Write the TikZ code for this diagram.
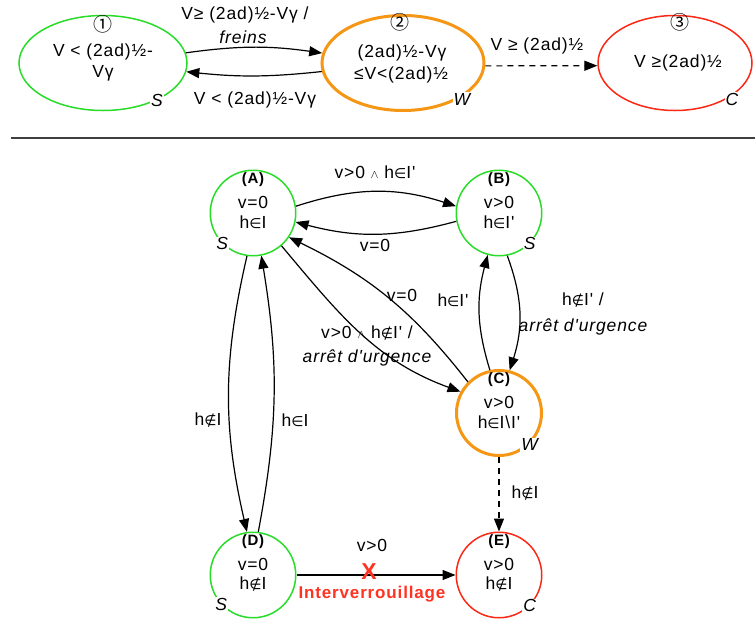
\documentclass[tikz,border=0pt]{standalone}
\usepackage{fontspec}
\setmainfont{Liberation Sans}[LetterSpace=5,Ligatures=TeXOff]
\newfontfamily\symf{DejaVu Sans}
\newfontfamily\cjkf{Noto Sans CJK SC}
\usetikzlibrary{arrows.meta,shapes.geometric}
\definecolor{sgreen}{RGB}{40,220,40}
\definecolor{worange}{RGB}{245,150,20}
\definecolor{cred}{RGB}{250,40,20}
\definecolor{ired}{RGB}{255,51,34}
\newcommand{\elt}{{\symf\fontsize{14}{14}\selectfont ∈}}
\newcommand{\nelt}{{\symf\fontsize{14}{14}\selectfont ∉}}
\newcommand{\wdg}{\ensuremath{\scriptstyle\wedge}}
\newcommand{\circd}[1]{{\cjkf\fontsize{19}{19}\selectfont #1}}
\tikzset{
  txt/.style={font=\fontsize{17.5}{20}\selectfont, inner sep=1pt, align=center},
  itx/.style={font=\itshape\fontsize{17.5}{20}\selectfont, inner sep=1pt},
  ttl/.style={font=\bfseries\fontsize{15}{17}\selectfont, inner sep=0pt},
  tag/.style={font=\itshape\fontsize{17.5}{20}\selectfont, fill=white, inner sep=1pt},
  ell/.style={ellipse, inner sep=0pt, line width=1.5pt},
  st/.style={circle, minimum size=85.5pt, inner sep=0pt, line width=1.5pt},
  safe/.style={st, draw=sgreen},
  warn/.style={st, draw=worange, line width=3pt, minimum size=85pt},
  crit/.style={st, draw=cred},
  arr/.style={-{Triangle[length=13pt,width=10pt]}, line width=1.2pt, black},
  dsh/.style={arr, dash pattern=on 6pt off 5pt},
}
\begin{document}
\begin{tikzpicture}[x=1pt,y=1pt]
\fill[white] (0,0) rectangle (755,-619);
\useasboundingbox (0,0) rectangle (755,-619);

% ---------- top row ----------
\node[ell, draw=sgreen, minimum width=168pt, minimum height=95pt] (E1) at (103,-63) {};
\node[ell, draw=worange, line width=3pt, minimum width=162pt, minimum height=95pt] (E2) at (403,-63) {};
\node[ell, draw=cred, minimum width=154pt, minimum height=95pt] (E3) at (675,-63) {};

\node[inner sep=0pt] (E1n) at (103,-24) {\circd{①}};
\node[txt] (E1a) at (103,-52) {V < (2ad)½-};
\node[txt] (E1b) at (103,-73) {Vγ};
\node[inner sep=0pt] (E2n) at (400,-22) {\circd{②}};
\node[txt] (E2a) at (402,-53) {(2ad)½-Vγ};
\node[txt] (E2b) at (401,-75) {≤V<(2ad)½};
\node[inner sep=0pt] (E3n) at (680,-22) {\circd{③}};
\node[txt] (E3a) at (678,-63) {V ≥(2ad)½};

\node[tag] (E1s) at (157,-100) {S};
\node[tag] (E2s) at (462,-99) {W};
\node[tag] (E3s) at (732,-99) {C};

\draw[arr] (E1.7) to[bend left=8] (E2.173);
\draw[arr] (E2.186) to[bend left=6] (E1.-6);
\draw[dsh] (E2.-2) -- (E3.182);

\node[txt] (l12a) at (245,-15) {V≥ (2ad)½-Vγ /};
\node[itx] (l12b) at (243,-37) {freins};
\node[txt] (l21) at (255,-100) {V < (2ad)½-Vγ};
\node[txt] (l23) at (537,-46) {V ≥ (2ad)½};

% separator
\coordinate (sepL) at (11,-138);
\coordinate (sepR) at (755,-138);
\draw[line width=2pt, black!75] (sepL) -- (sepR);

% ---------- bottom graph ----------
\node[safe] (A) at (253,-213) {};
\node[safe] (B) at (499,-213) {};
\node[warn] (C) at (499,-413) {};
\node[safe] (D) at (253,-575) {};
\node[crit] (E) at (499,-575) {};

\foreach \n/\t/\a/\b in {A/A/v=0/h\elt I, B/B/v>0/h\elt I', C/C/v>0/h\elt I\textbackslash I', D/D/v=0/h\nelt I, E/E/v>0/h\nelt I}{
  \node[ttl] (\n t) at ([yshift=33pt]\n) {(\t)};
  \node[txt] (\n a) at ([yshift=11pt]\n) {\a};
  \node[txt] (\n b) at ([yshift=-9pt]\n) {\b};
}

\node[tag] (As) at (A.225) {S};
\node[tag] (Bs) at (B.-45) {S};
\node[tag] (Cs) at (C.-46) {W};
\node[tag] (Ds) at (D.223) {S};
\node[tag] (Es) at (E.-45) {C};

\draw[arr] (A.9) to[bend left=18] (B.171);
\draw[arr] (B.191) to[bend left=15] (A.-12);
\draw[arr] (C.135) to[bend right=13] (A.-34);
\draw[arr] (A.-49) to[out=-50,in=160] (C.151);
\draw[arr] (C.102) to[bend left=16] (B.255);
\draw[arr] (B.-79) to[bend left=19] (C.76);
\draw[arr] (A.-98) to[bend right=13] (D.98);
\draw[arr] (D.83) to[bend right=10] (A.-79);
\draw[dsh] (C.-90) -- (E.90);
\draw[arr] (D.0) -- (E.180);

\node[txt] (lAB) at (375,-172) {v>0 \wdg{} h\elt I'};
\node[txt] (lBA) at (375,-245) {v=0};
\node[txt] (lCA) at (402,-295) {v=0};
\node[txt] (lAC1) at (367,-333) {v>0 \wdg{} h\nelt I' /};
\node[itx] (lAC2) at (367,-358) {arrêt d'urgence};
\node[txt] (lCB) at (453,-300) {h\elt I'};
\node[txt] (lBC1) at (583,-300) {h\nelt I' /};
\node[itx] (lBC2) at (583,-327) {arrêt d'urgence};
\node[txt] (lAD) at (208,-420) {h\nelt I};
\node[txt] (lDA) at (295,-420) {h\elt I};
\node[txt] (lCE) at (525,-493) {h\nelt I};
\node[txt] (lDE) at (372,-545) {v>0};
\node[font=\bfseries\fontsize{23}{23}\selectfont, text=ired, inner sep=0pt] (X) at (369,-572) {X};
\node[font=\bfseries\fontsize{17}{19}\selectfont, text=ired, inner sep=0pt] (lock) at (372,-594) {Interverrouillage};
\end{tikzpicture}
\end{document}
